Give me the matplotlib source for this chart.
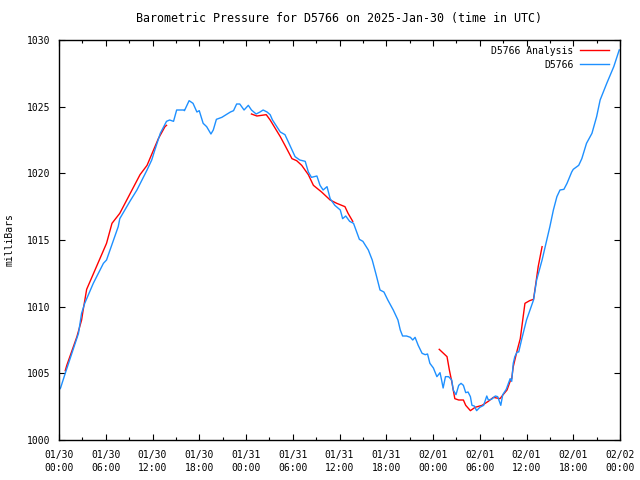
import matplotlib
matplotlib.use("Agg")
import matplotlib.pyplot as plt
import numpy as np

# hours since 2025-01-30 00:00 UTC
station_hours = [0.0, 0.2, 0.8, 1.8, 2.5, 2.9, 3.3, 4.4, 5.7, 6.1, 7.0, 7.6, 7.8, 9.1, 10.0,
                 11.3, 11.9, 12.3, 13.0, 13.8, 14.2, 14.7, 15.1, 16.0, 16.1, 16.7, 17.2, 17.7,
                 18.0, 18.5, 18.95, 19.5, 19.8, 20.2, 20.9, 22.0, 22.4, 22.8, 23.2, 23.75, 24.3,
                 24.7, 25.3, 25.8, 26.2, 26.7, 27.1, 27.4, 27.95, 28.4, 29.0, 29.4, 29.9, 30.3,
                 30.9, 31.6, 32.0, 32.4, 33.1, 33.5, 33.9, 34.4, 34.8, 35.4, 36.1, 36.4, 36.8,
                 37.3, 37.8, 38.2, 38.55, 39.0, 39.7, 40.2, 40.7, 41.2, 41.7, 42.2, 42.9, 43.5,
                 43.8, 44.1, 44.6, 45.1, 45.4, 45.7, 46.1, 46.6, 47.0, 47.3, 47.6, 48.05, 48.5,
                 48.9, 49.1, 49.3, 49.6, 50.0, 50.4, 50.6, 50.95, 51.3, 51.6, 51.9, 52.2, 52.5,
                 52.8, 53.0, 53.3, 53.6, 54.0, 54.5, 54.9, 55.1, 55.5, 56.0, 56.3, 56.7, 56.95,
                 57.4, 57.9, 58.1, 58.3, 58.5, 58.8, 59.0, 59.4, 60.0, 60.9, 61.3, 62.0, 62.6,
                 63.0, 63.45, 63.9, 64.3, 64.8, 65.2, 65.8, 66.0, 66.7, 67.1, 67.7, 68.4, 69.0,
                 69.45, 70.3, 71.2, 71.9]
station_mb = [1003.75, 1003.9, 1005.0, 1006.75, 1008.0, 1009.5, 1010.25, 1011.75, 1013.25,
              1013.5, 1015.0, 1016.0, 1016.6, 1017.9, 1018.75, 1020.25, 1021.0, 1021.75, 1023.0,
              1023.9, 1024.0, 1023.9, 1024.75, 1024.75, 1024.7, 1025.45, 1025.25, 1024.6, 1024.7,
              1023.75, 1023.5, 1022.95, 1023.25, 1024.05, 1024.2, 1024.6, 1024.7, 1025.2, 1025.2,
              1024.75, 1025.1, 1024.75, 1024.45, 1024.6, 1024.75, 1024.6, 1024.4, 1024.0, 1023.5,
              1023.1, 1022.9, 1022.4, 1021.75, 1021.25, 1021.0, 1020.9, 1020.1, 1019.7, 1019.8,
              1019.1, 1018.75, 1019.0, 1018.1, 1017.6, 1017.25, 1016.6, 1016.8, 1016.4, 1016.25,
              1015.6, 1015.05, 1014.9, 1014.25, 1013.5, 1012.4, 1011.25, 1011.1, 1010.5, 1009.75,
              1009.0, 1008.25, 1007.8, 1007.8, 1007.7, 1007.5, 1007.7, 1007.1, 1006.5, 1006.4,
              1006.45, 1005.75, 1005.4, 1004.75, 1005.05, 1004.5, 1003.9, 1004.75, 1004.75, 1004.5,
              1003.75, 1003.4, 1004.1, 1004.25, 1004.1, 1003.55, 1003.6, 1003.25, 1002.6, 1002.55,
              1002.2, 1002.45, 1002.6, 1003.3, 1003.0, 1003.05, 1003.3, 1003.25, 1002.6, 1003.4,
              1003.8, 1004.6, 1004.4, 1005.75, 1006.25, 1006.6, 1006.6, 1007.6, 1009.0, 1010.5,
              1012.0, 1013.5, 1015.0, 1016.0, 1017.25, 1018.25, 1018.75, 1018.8, 1019.25, 1020.1,
              1020.3, 1020.6, 1021.1, 1022.25, 1023.0, 1024.25, 1025.5, 1026.75, 1028.0, 1029.25]

# analysis, three separate runs (nan = gap)
nan = np.nan
analysis_hours = [0.8, 1.0, 2.3, 2.9, 3.1, 3.55, 6.1, 6.8, 7.8, 10.4, 11.3, 12.75, 13.6, 13.8,
                  nan,
                  24.7, 25.4, 26.6, 27.1, 28.4, 29.0, 29.9, 30.5, 31.15, 32.0, 32.65, 33.7,
                  34.8, 35.65, 36.7, 37.1, 37.7,
                  nan,
                  48.8, 49.8, 50.1, 50.4, 50.8, 51.3, 51.9, 52.2, 52.8, 53.4, 54.3, 55.1,
                  55.75, 56.6, 57.0, 57.5, 57.9, 58.1, 58.3, 58.75, 59.2, 59.8, 60.4, 60.9,
                  61.2, 61.5, 62.0]
analysis_mb = [1005.2, 1005.6, 1007.75, 1009.0, 1009.75, 1011.3, 1014.75, 1016.25, 1017.0,
               1019.9, 1020.6, 1022.6, 1023.5, 1023.6,
               nan,
               1024.45, 1024.3, 1024.4, 1024.0, 1022.75, 1022.1, 1021.1, 1020.95, 1020.6,
               1019.9, 1019.1, 1018.6, 1018.0, 1017.75, 1017.5, 1017.0, 1016.4,
               nan,
               1006.8, 1006.25, 1005.25, 1004.4, 1003.1, 1003.0, 1003.0, 1002.6, 1002.2,
               1002.45, 1002.6, 1002.9, 1003.2, 1003.1, 1003.4, 1003.75, 1004.4, 1004.6,
               1005.5, 1006.6, 1007.6, 1010.25, 1010.45, 1010.55, 1011.75, 1013.0, 1014.5]

tick_hours = list(range(0, 73, 6))
tick_labels = ["01/30\n00:00", "01/30\n06:00", "01/30\n12:00", "01/30\n18:00",
               "01/31\n00:00", "01/31\n06:00", "01/31\n12:00", "01/31\n18:00",
               "02/01\n00:00", "02/01\n06:00", "02/01\n12:00", "02/01\n18:00",
               "02/02\n00:00"]

plt.rcParams['font.family'] = ['DejaVu Sans Mono']
plt.rcParams['font.size'] = 7

fig = plt.figure(figsize=(6.4, 4.8), dpi=100)
ax = fig.add_axes([59/640, 40/480, 561/640, 400/480])

ax.plot(analysis_hours, analysis_mb, color='#ff0000', lw=1.0, label='D5766 Analysis')
ax.plot(station_hours, station_mb, color='#1e90ff', lw=1.0, label='D5766')

ax.set_xlim(0, 72)
ax.set_ylim(1000, 1030)
ax.set_xticks(tick_hours)
ax.set_xticklabels(tick_labels, linespacing=1.35)
ax.set_xticks(range(0, 73, 3), minor=True)
ax.set_yticks(range(1000, 1031, 5))
ax.tick_params(which='both', direction='in', top=True, right=True, width=0.8)
ax.tick_params(which='major', length=4)
ax.tick_params(which='minor', length=2)
ax.tick_params(axis='x', pad=7)
ax.tick_params(axis='y', pad=6)
for s in ax.spines.values():
    s.set_linewidth(1.0)

ax.set_title("Barometric Pressure for D5766 on 2025-Jan-30 (time in UTC)", pad=13)
ax.set_ylabel("milliBars", labelpad=9)

ax.legend(loc='upper right', frameon=False, markerfirst=False, handlelength=2.9,
          handletextpad=0.7, borderaxespad=0.2, labelspacing=0.4,
          bbox_to_anchor=(0.99, 1.0))

fig.savefig("out.png", dpi=100)
